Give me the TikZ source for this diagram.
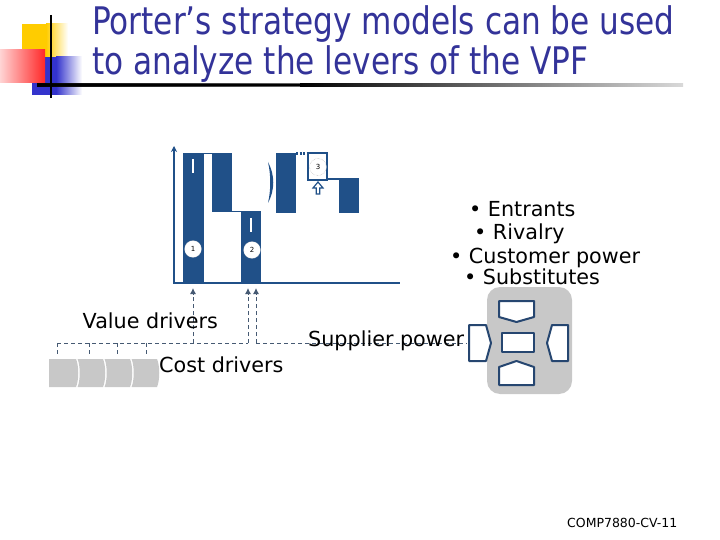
\documentclass[tikz,border=0pt]{standalone}
\usepackage{fontspec}
\setmainfont{DejaVu Sans}
\newfontfamily\titlefont[FakeStretch=0.82]{DejaVu Sans}
\usetikzlibrary{arrows.meta,shapes.geometric}
\definecolor{titleblue}{RGB}{51,51,153}
\definecolor{barblue}{RGB}{32,80,136}
\definecolor{forceblue}{RGB}{38,70,112}
\definecolor{dashcol}{RGB}{70,90,115}
\definecolor{boxgray}{RGB}{200,200,200}
\definecolor{decoyellow}{RGB}{255,204,0}
\definecolor{decored}{RGB}{255,40,40}
\definecolor{decoblue}{RGB}{51,51,204}
\tikzset{
  bar/.style={fill=barblue},
  numcirc/.style={circle,draw=gray!70,densely dotted,fill=white,minimum size=17pt,inner sep=0pt,font=\fontsize{7}{8}\selectfont},
  body/.style={inner sep=0pt,font=\fontsize{20.7}{24}\selectfont},
  titletext/.style={inner sep=0pt,text=titleblue,font=\titlefont\fontsize{38}{44}\selectfont},
  dline/.style={draw=dashcol,dash pattern=on 4pt off 3pt,line width=0.9pt},
  uparrow/.style={dline,-{Latex[length=6pt,width=6pt]}},
  forceshape/.style={draw=forceblue,line width=2pt,fill=white,line join=round},
  chev/.style={fill=boxgray,draw=white,line width=1.2pt}
}
\begin{document}
\begin{tikzpicture}[x=1pt,y=-1pt]
\useasboundingbox (0,0) rectangle (720,540);
% ---------- decoration ----------
\fill[decoyellow] (22,24) rectangle (46,57);
\shade[left color=decoyellow,right color=white] (46,24) rectangle (68,57);
\fill[decoblue] (32,57) rectangle (56,95);
\shade[left color=decoblue,right color=white] (56,57) rectangle (82,95);
\shade[left color=white!80!decored,right color=decored] (0,50) rectangle (45,83);
\shade[left color=black,right color=white] (37,84) rectangle (683,86.5);
\fill[black] (37,84) rectangle (300,86.5);
\shade[left color=black,right color=white!85!black] (300,84) rectangle (683,86.5);
\draw[black,line width=2pt] (51,15) -- (51,98);
% ---------- title ----------
\node[titletext,anchor=base west] (t1) at (92,34.5) {Porter’s strategy models can be used};
\node[titletext,anchor=base west] (t2) at (92,74.5) {to analyze the levers of the VPF};
% ---------- value chart ----------
\fill[bar] (183,153) rectangle (204,283);
\fill[bar] (212,153) rectangle (232,212);
\draw[barblue,line width=1.5pt] (204,153.7) -- (212,153.7);
\fill[bar] (241,211) rectangle (261,283);
\draw[barblue,line width=1.5pt] (232,211.5) -- (241,211.5);
\draw[white,line width=2pt] (192.7,159) -- (192.7,173);
\draw[white,line width=2pt] (251,218) -- (251,232);
\draw[barblue,line width=2pt,-{Stealth[length=6pt,width=6pt]}] (174,283) -- (174,146);
\draw[barblue,line width=2pt] (173,283) -- (400,283);
\fill[barblue] (268,162) .. controls (275,175) and (275,190) .. (268,203) .. controls (271,190) and (271,175) .. (268,162) -- cycle;
\fill[bar] (276,153) rectangle (296,213);
\draw[barblue,line width=3pt,dash pattern=on 2pt off 1.5pt] (296,154) -- (308,154);
\draw[barblue,line width=2pt,fill=white] (308,153) rectangle (327,180);
\draw[barblue,line width=2pt] (327,179) -- (339,179);
\fill[bar] (339,178) rectangle (359,213);
\draw[barblue,line width=1.2pt,fill=white,line join=miter] (318,182) -- (323,188) -- (319.8,188) -- (319.8,194) -- (316.2,194) -- (316.2,188) -- (313,188) -- cycle;
\node[numcirc] (c1) at (193,249) {1};
\node[numcirc] (c2) at (252,250) {2};
\node[numcirc] (c3) at (318,167) {3};
% ---------- drivers ----------
\coordinate (a1b) at (193,343);
\coordinate (a1t) at (193,288);
\coordinate (a2b) at (248,343);
\coordinate (a2t) at (248,288);
\coordinate (a3b) at (256,343);
\coordinate (a3t) at (256,288);
\coordinate (hl) at (57,343);
\coordinate (hr) at (467,343);
\draw[uparrow] (a1b) -- (a1t);
\draw[uparrow] (a2b) -- (a2t);
\draw[uparrow] (a3b) -- (a3t);
\draw[dline] (hl) -- (a2b);
\draw[dline] (a3b) -- (hr);
\foreach \x/\n in {57/k1,89/k2,117/k3,146/k4}{
  \coordinate (\n t) at (\x,343);
  \coordinate (\n b) at (\x,355);
  \draw[dline] (\n t) -- (\n b);
}
% chevrons
\fill[boxgray] (49,359) -- (76,359) .. controls (79,366) and (79,380) .. (76,387) -- (49,387) -- cycle;
\foreach \x in {76,103,130}{
  \fill[boxgray] (\x+1.5,359) -- (\x+27,359) .. controls (\x+30,366) and (\x+30,380) .. (\x+27,387) -- (\x+1.5,387) .. controls (\x+4.5,380) and (\x+4.5,366) .. (\x+1.5,359) -- cycle;
}
\node[body,anchor=base west] (vd) at (82.5,328) {Value drivers};
\node[body,anchor=base west] (cd) at (159,372.5) {Cost drivers};
% ---------- five forces ----------
\node[body,anchor=base west] (b1) at (469,216.7) {• Entrants};
\node[body,anchor=base west] (b2) at (474,240) {• Rivalry};
\node[body,anchor=base west] (b3) at (450,263.3) {• Customer power};
\node[body,anchor=base west] (b4) at (464,284.3) {• Substitutes};
\node[body,anchor=base west] (sp) at (308,346.5) {Supplier power};
\fill[boxgray,rounded corners=13pt] (487,287) rectangle (572,394);
\draw[forceshape] (499,301) -- (534,301) -- (534,317) -- (516.5,322) -- (499,317) -- cycle;
\draw[forceshape] (502,333) rectangle (534,352);
\draw[forceshape] (499,385) -- (534,385) -- (534,367) -- (516.5,361) -- (499,367) -- cycle;
\draw[forceshape] (469,325) -- (486,325) -- (491,343) -- (486,361) -- (469,361) -- cycle;
\draw[forceshape] (568,325) -- (552,325) -- (547,343) -- (552,361) -- (568,361) -- cycle;
% ---------- footer ----------
\node[inner sep=0pt,anchor=base west,font=\fontsize{12.5}{14}\selectfont] (ft) at (567,527.3) {COMP7880-CV-11};
\end{tikzpicture}
\end{document}
